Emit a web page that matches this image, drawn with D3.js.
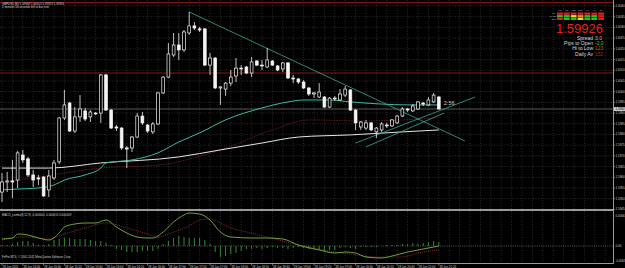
<!DOCTYPE html>
<html>
<head>
<meta charset="utf-8">
<script src="https://cdn.jsdelivr.net/npm/d3@7"></script>
<style>
  body { margin: 0; background: #000; }
  svg { display: block; }
  text { font-family: "Liberation Sans", Arial, sans-serif; }
</style>
</head>
<body>
<div id="chart"></div>
<script>
// GBPUSD M5 candles, 28 Jun 2011
const opens = [1.59531,1.59578,1.59583,1.59587,1.59704,1.59686,1.59611,1.59597,1.59601,1.59541,
  1.59597,1.59672,1.59877,1.59947,1.59816,1.59882,1.59910,1.59882,1.59900,1.59900,
  1.60078,1.59914,1.59835,1.59830,1.59737,1.59737,1.59788,1.59886,1.59844,1.59812,
  1.59849,1.59994,1.60068,1.60171,1.60218,1.60195,1.60274,1.60307,1.60293,1.60293,
  1.60124,1.60157,1.60017,1.60012,1.60040,1.60073,1.60110,1.60115,1.60087,1.60143,
  1.60124,1.60115,1.60143,1.60120,1.60106,1.60134,1.60064,1.60059,1.60045,1.60017,
  1.59989,1.59975,1.59975,1.59928,1.59970,1.59961,1.59984,1.60008,1.59914,1.59835,
  1.59830,1.59854,1.59812,1.59821,1.59844,1.59840,1.59854,1.59886,1.59919,1.59910,
  1.59919,1.59947,1.59938,1.59952,1.59975];
const highs = [1.59620,1.59625,1.59681,1.59723,1.59728,1.59695,1.59634,1.59611,1.59606,1.59634,
  1.59681,1.59882,1.60008,1.59952,1.59928,1.59984,1.59924,1.59914,1.59905,1.60082,
  1.60082,1.59919,1.59844,1.59835,1.59746,1.59793,1.59900,1.59905,1.59849,1.59858,
  1.59998,1.60073,1.60227,1.60274,1.60274,1.60288,1.60372,1.60325,1.60302,1.60297,
  1.60181,1.60162,1.60026,1.60045,1.60101,1.60157,1.60124,1.60120,1.60162,1.60148,
  1.60148,1.60204,1.60148,1.60124,1.60139,1.60139,1.60078,1.60064,1.60054,1.60022,
  1.59998,1.60040,1.59980,1.59975,1.59980,1.60012,1.60026,1.60012,1.59919,1.59863,
  1.59868,1.59858,1.59835,1.59858,1.59854,1.59872,1.59891,1.59928,1.59924,1.59942,
  1.59956,1.59952,1.59975,1.59994,1.59980];
const lows = [1.59485,1.59531,1.59503,1.59550,1.59667,1.59601,1.59555,1.59564,1.59508,1.59508,
  1.59587,1.59662,1.59868,1.59812,1.59807,1.59858,1.59863,1.59858,1.59891,1.59854,
  1.59910,1.59826,1.59816,1.59728,1.59643,1.59718,1.59784,1.59844,1.59807,1.59802,
  1.59844,1.59989,1.60064,1.60162,1.60148,1.60185,1.60265,1.60288,1.60279,1.60120,
  1.60078,1.60012,1.59938,1.59980,1.60026,1.60045,1.60078,1.60082,1.60068,1.60120,
  1.60101,1.60110,1.60120,1.60096,1.60092,1.60059,1.60040,1.60036,1.60012,1.59980,
  1.59970,1.59970,1.59924,1.59924,1.59956,1.59956,1.59975,1.59910,1.59821,1.59821,
  1.59821,1.59816,1.59784,1.59812,1.59830,1.59835,1.59849,1.59882,1.59905,1.59905,
  1.59914,1.59933,1.59933,1.59947,1.59917];
const closes = [1.59578,1.59583,1.59578,1.59714,1.59681,1.59611,1.59587,1.59592,1.59513,1.59606,
  1.59667,1.59877,1.59938,1.59816,1.59882,1.59919,1.59872,1.59905,1.59896,1.60078,
  1.59914,1.59830,1.59830,1.59737,1.59732,1.59788,1.59886,1.59854,1.59816,1.59849,
  1.59994,1.60068,1.60176,1.60218,1.60195,1.60279,1.60307,1.60297,1.60288,1.60124,
  1.60157,1.60017,1.60022,1.60040,1.60068,1.60110,1.60106,1.60087,1.60139,1.60124,
  1.60120,1.60148,1.60124,1.60101,1.60134,1.60064,1.60059,1.60045,1.60017,1.59989,
  1.59994,1.59998,1.59928,1.59970,1.59966,1.59989,1.60012,1.59914,1.59854,1.59858,
  1.59854,1.59821,1.59830,1.59849,1.59840,1.59868,1.59886,1.59919,1.59914,1.59933,
  1.59952,1.59942,1.59961,1.59984,1.59919];

// moving averages, sampled as [bar, price]
const maTeal = [[0,1.59541],[3,1.59545],[7,1.59550],[10,1.59564],[12,1.59587],[16,1.59611],[19,1.59643],
  [20,1.59667],[25,1.59681],[30,1.59714],[34,1.59765],[38,1.59807],[43,1.59868],[50,1.59924],
  [55,1.59952],[58,1.59961],[63,1.59961],[67,1.59952],[73,1.59942],[78,1.59938],[84,1.59938]];
const maWhite = [[0,1.59643],[9,1.59643],[19,1.59667],[34,1.59695],[42,1.59728],[50,1.59760],
  [57,1.59788],[67,1.59798],[77,1.59812],[84,1.59821]];
const maRed = [[0,1.59578],[6,1.59597],[19,1.59643],[30,1.59657],[42,1.59728],[52,1.59821],
  [59,1.59868],[69,1.59863],[84,1.59877]];

// trendlines [bar, price] -> [bar, price]
const trendLines = [
  [[36,1.60372],[89,1.59770]],
  [[68,1.59760],[91,1.59975]],
  [[70,1.59742],[85,1.59900]]
];
const redLevels = [1.60416, 1.60087];
const bidPrice = 1.59919;

const priceTicks = [1.6040,1.6035,1.6030,1.6025,1.6020,1.6015,1.6010,1.6005,1.6000,1.5995,
  1.5990,1.5985,1.5980,1.5975,1.5970,1.5965,1.5960,1.5955,1.5950,1.5945];
const timeLabels = ["28 Jun 2011","28 Jun 14:40","28 Jun 15:00","28 Jun 15:20","28 Jun 15:40",
  "28 Jun 16:00","28 Jun 16:20","28 Jun 16:40","28 Jun 17:00","28 Jun 17:20","28 Jun 17:40",
  "28 Jun 18:00","28 Jun 18:20","28 Jun 18:40","28 Jun 19:00","28 Jun 19:20","28 Jun 19:40",
  "28 Jun 20:00","28 Jun 20:20","28 Jun 20:40","28 Jun 21:00","28 Jun 21:20"];

// MACD panel
const macdMain = [[0,0.00014],[2,0.00016],[3,0.00024],[5,0.00022],[7,0.00016],[9,0.00012],[11,0.00026],
  [12,0.00038],[14,0.00044],[16,0.00046],[18,0.00046],[20,0.00052],[22,0.00038],[24,0.00026],
  [26,0.00018],[28,0.00016],[29,0.00016],[31,0.00028],[33,0.00048],[35,0.00062],[36,0.00066],
  [38,0.00064],[40,0.00052],[42,0.00028],[44,0.00018],[48,0.00016],[51,0.00016],[54,0.00014],
  [57,0.00002],[61,-0.00008],[64,-0.00014],[66,-0.00012],[68,-0.00014],[70,-0.00022],[73,-0.00024],
  [75,-0.0002],[78,-0.00012],[80,-0.00008],[84,0]];
const macdSignal = [[0,0.00012],[4,0.00018],[7,0.00016],[9,0.00014],[12,0.00024],[16,0.00036],
  [20,0.00046],[24,0.00036],[28,0.00024],[30,0.00018],[33,0.00028],[36,0.0004],[38,0.00052],
  [40,0.00054],[42,0.00046],[44,0.00036],[47,0.00028],[51,0.00018],[57,0.00002],[61,-0.00006],
  [64,-0.00012],[67,-0.00016],[72,-0.00022],[77,-0.00022],[80,-0.00014],[84,-0.00008]];
const macdHist = [0.00002,0.00002,0.00004,0.00008,0.0001,0.0001,0.00006,0.00002,0.00002,0.00004,
  0.00012,0.00014,0.00016,0.00016,0.00014,0.00014,0.00014,0.00012,0.0001,0.0001,
  0.00006,0.00002,-0.00006,-0.00008,-0.00012,-0.00012,-0.00012,-0.0001,-0.0001,-0.0001,
  -0.00006,0.00004,0.0001,0.00016,0.0002,0.00018,0.00016,0.00016,0.00016,0.00012,
  0.00004,-0.00012,-0.00022,-0.0002,-0.00016,-0.00014,-0.0001,-0.00006,-0.00006,-0.00004,
  -0.00006,-0.00004,-0.00002,-0.00004,-0.00004,-0.00006,-0.00004,-0.00002,-0.00004,-0.00006,
  -0.00006,-0.00008,-0.0001,-0.00008,-0.00008,-0.00004,-0.00002,-0.00004,-0.00006,-0.00002,
  -0.00002,-0.00002,-0.00002,0,0.00002,0.00002,0.00002,0.00004,0.00004,0.00006,
  0.00004,0.00006,0.00008,0.0001,0.00008];
const macdTicks = [0.0006, 0, -0.0003];

// info panel
const headerLines = ["GBPUSD,M5  1.59949 1.60013 1.59919 1.59926", "2 minutes 56 seconds left to bar end"];
const tfNames = ["M1","M5","M15","M30","H1","H4","D1"];
const tfRows = ["MA","MACD","STO"];
const tfColors = [
  ["#d42222","#d42222","#d42222","#d42222","#d42222","#d42222","#d42222"],
  ["#26c026","#26c026","#e0d820","#e08a20","#26c026","#26c026","#d42222"],
  ["#d42222","#26c026","#26c026","#e0d820","#26c026","#26c026","#d42222"]
];
const bigPrice = "1.59926";
const infoLabels = ["Spread","Pips to Open","Hi to Low","Daily Av"];
const infoValues = ["3.0","-2.0","123","152"];
const infoColors = ["#c8c070","#5ec23a","#b0501c","#8a3a1a"];
const countdown = "2:56";

const W = 625, H = 268;
const svg = d3.select("#chart").append("svg").attr("width", W).attr("height", H);
svg.append("rect").attr("width", W).attr("height", H).attr("fill", "#000");

const x = d3.scaleLinear().domain([0, 117.5]).range([2, 613]);
const y = d3.scaleLinear().domain([1.5945, 1.6040]).range([209.4, 6]);
const ym = d3.scaleLinear().domain([-0.00034, 0.0007]).range([263, 211]);

const defs = svg.append("defs");
defs.append("clipPath").attr("id", "clipMain").append("rect").attr("x", 0).attr("y", 0).attr("width", 613).attr("height", 209);
defs.append("clipPath").attr("id", "clipMacd").append("rect").attr("x", 0).attr("y", 211).attr("width", 613).attr("height", 52);

const gridColor = "#4a4a4a";
const bars = d3.range(0, 118, 2);

// grid, main panel
const main = svg.append("g").attr("clip-path", "url(#clipMain)");
main.selectAll("line.vg").data(bars).join("line")
  .attr("x1", d => x(d)).attr("x2", d => x(d)).attr("y1", 0).attr("y2", 209)
  .attr("stroke", gridColor).attr("stroke-width", 0.6).attr("stroke-dasharray", "1,1.6");
main.selectAll("line.hg").data(priceTicks).join("line")
  .attr("x1", 0).attr("x2", 613).attr("y1", d => y(d)).attr("y2", d => y(d))
  .attr("stroke", gridColor).attr("stroke-width", 0.6).attr("stroke-dasharray", "1,1.6");

// horizontal levels
main.selectAll("line.red").data(redLevels).join("line")
  .attr("x1", 0).attr("x2", 613).attr("y1", d => y(d)).attr("y2", d => y(d))
  .attr("stroke", "#8a1414").attr("stroke-width", 1);
main.append("line").attr("x1", 0).attr("x2", 613).attr("y1", y(bidPrice)).attr("y2", y(bidPrice))
  .attr("stroke", "#707070").attr("stroke-width", 0.8);

// moving averages
const maLine = d3.line().x(d => x(d[0])).y(d => y(d[1])).curve(d3.curveMonotoneX);
main.append("path").attr("d", maLine(maRed)).attr("fill", "none")
  .attr("stroke", "#6e1c1c").attr("stroke-width", 0.9).attr("stroke-dasharray", "1.5,1");
main.append("path").attr("d", maLine(maWhite)).attr("fill", "none")
  .attr("stroke", "#e6e6e6").attr("stroke-width", 1);
main.append("path").attr("d", maLine(maTeal)).attr("fill", "none")
  .attr("stroke", "#3fb8a6").attr("stroke-width", 1);

// trendlines
main.selectAll("line.tl").data(trendLines).join("line")
  .attr("x1", d => x(d[0][0])).attr("y1", d => y(d[0][1]))
  .attr("x2", d => x(d[1][0])).attr("y2", d => y(d[1][1]))
  .attr("stroke", "#3aa898").attr("stroke-width", 0.8);

// candles
const candles = opens.map((o, i) => ({ i, o, h: highs[i], l: lows[i], c: closes[i] }));
const cg = main.append("g");
cg.selectAll("line.wick").data(candles).join("line")
  .attr("x1", d => x(d.i)).attr("x2", d => x(d.i))
  .attr("y1", d => y(d.h)).attr("y2", d => y(d.l))
  .attr("stroke", "#f0f0f0").attr("stroke-width", 0.8);
cg.selectAll("rect.body").data(candles).join("rect")
  .attr("x", d => x(d.i) - 1.4)
  .attr("width", 2.8)
  .attr("y", d => y(Math.max(d.o, d.c)))
  .attr("height", d => Math.max(0.8, Math.abs(y(d.o) - y(d.c))))
  .attr("fill", d => d.c > d.o ? "#000" : "#f4f4f4")
  .attr("stroke", "#f4f4f4").attr("stroke-width", 0.7);

main.append("text").attr("x", x(84) + 5).attr("y", y(closes[84]) - 4)
  .attr("fill", "#c8c8c8").attr("font-size", 5.5).text(countdown);

// header text
svg.selectAll("text.hdr").data(headerLines).join("text")
  .attr("x", 2).attr("y", (d, i) => 4.6 + i * 3.6)
  .attr("fill", "#d8d8d8").attr("font-size", 2.9).text(d => d);

// timeframe table
const colX = d3.scaleBand().domain(tfNames).range([557, 604]).paddingInner(0.15);
const rowY = d3.scaleBand().domain(tfRows).range([12.5, 20]).paddingInner(0.12);
svg.selectAll("text.tfh").data(tfNames).join("text")
  .attr("x", d => colX(d) + colX.bandwidth() / 2).attr("y", 11.3)
  .attr("text-anchor", "middle").attr("fill", "#bbbbbb").attr("font-size", 2.2).text(d => d);
svg.selectAll("text.tfr").data(tfRows).join("text")
  .attr("x", 556).attr("y", d => rowY(d) + rowY.bandwidth() - 0.4)
  .attr("text-anchor", "end").attr("fill", "#bbbbbb").attr("font-size", 2.2).text(d => d);
tfRows.forEach((r, ri) => {
  svg.selectAll("rect.tf" + ri).data(tfNames).join("rect")
    .attr("x", d => colX(d)).attr("y", rowY(r))
    .attr("width", colX.bandwidth()).attr("height", rowY.bandwidth())
    .attr("fill", (d, ci) => tfColors[ri][ci]);
});

svg.append("text").attr("x", 603).attr("y", 32.5).attr("text-anchor", "end")
  .attr("fill", "#e2231c").attr("font-size", 13).text(bigPrice);
svg.selectAll("text.il").data(infoLabels).join("text")
  .attr("x", 593).attr("y", (d, i) => 39.5 + i * 5.4).attr("text-anchor", "end")
  .attr("fill", "#d8d8d8").attr("font-size", 5).text(d => d);
svg.selectAll("text.iv").data(infoValues).join("text")
  .attr("x", 595).attr("y", (d, i) => 39.5 + i * 5.4)
  .attr("fill", (d, i) => infoColors[i]).attr("font-size", 5).text(d => d);

// separator between panels
svg.append("rect").attr("x", 0).attr("y", 209).attr("width", 613).attr("height", 2).attr("fill", "#9a9a9a");

// MACD panel
const mp = svg.append("g").attr("clip-path", "url(#clipMacd)");
mp.selectAll("line.vg").data(bars).join("line")
  .attr("x1", d => x(d)).attr("x2", d => x(d)).attr("y1", 211).attr("y2", 263)
  .attr("stroke", gridColor).attr("stroke-width", 0.6).attr("stroke-dasharray", "1,1.6");
mp.append("line").attr("x1", 0).attr("x2", 613).attr("y1", ym(0)).attr("y2", ym(0))
  .attr("stroke", "#808080").attr("stroke-width", 0.7).attr("stroke-dasharray", "1,1.2");
mp.selectAll("line.hist").data(macdHist).join("line")
  .attr("x1", (d, i) => x(i)).attr("x2", (d, i) => x(i))
  .attr("y1", ym(0)).attr("y2", d => ym(d))
  .attr("stroke", "#2f8a2f").attr("stroke-width", 1);
const mLine = d3.line().x(d => x(d[0])).y(d => ym(d[1])).curve(d3.curveMonotoneX);
mp.append("path").attr("d", mLine(macdSignal)).attr("fill", "none")
  .attr("stroke", "#9a3a3a").attr("stroke-width", 0.8).attr("stroke-dasharray", "1,1");
mp.append("path").attr("d", mLine(macdMain)).attr("fill", "none")
  .attr("stroke", "#7cb342").attr("stroke-width", 0.9);
svg.append("text").attr("x", 2).attr("y", 215.5).attr("fill", "#d0d0d0").attr("font-size", 2.9)
  .text("MACD_combo(8,12,9) -0.000004 -0.000013 0.000009");
svg.append("text").attr("x", 2).attr("y", 258).attr("fill", "#d0d0d0").attr("font-size", 2.9)
  .text("FxPro MT4, \u00a9 2001-2011 MetaQuotes Software Corp.");

// axes frame
svg.append("line").attr("x1", 613.5).attr("x2", 613.5).attr("y1", 0).attr("y2", 263.5)
  .attr("stroke", "#c0c0c0").attr("stroke-width", 0.8);
svg.append("line").attr("x1", 0).attr("x2", 613.5).attr("y1", 263.5).attr("y2", 263.5)
  .attr("stroke", "#c0c0c0").attr("stroke-width", 0.8);

// price axis
const pAxis = svg.append("g");
pAxis.selectAll("line").data(priceTicks).join("line")
  .attr("x1", 613.5).attr("x2", 615).attr("y1", d => y(d)).attr("y2", d => y(d))
  .attr("stroke", "#c0c0c0").attr("stroke-width", 0.6);
pAxis.selectAll("text").data(priceTicks).join("text")
  .attr("x", 615.5).attr("y", d => y(d) + 1).attr("fill", "#d0d0d0").attr("font-size", 3)
  .text(d => d.toFixed(4));
// current bid label
svg.append("rect").attr("x", 614).attr("y", y(bidPrice) - 2).attr("width", 11).attr("height", 4).attr("fill", "#c8c8c8");
svg.append("text").attr("x", 615.5).attr("y", y(bidPrice) + 1.1).attr("fill", "#000").attr("font-size", 3)
  .text(bidPrice.toFixed(4));

// MACD axis
svg.selectAll("text.mt").data(macdTicks).join("text")
  .attr("x", 615.5).attr("y", d => ym(d) + 1).attr("fill", "#d0d0d0").attr("font-size", 3)
  .text(d => d === 0 ? "0.00" : d.toFixed(4));

// time axis
svg.selectAll("line.tt").data(timeLabels).join("line")
  .attr("x1", (d, k) => x(k * 4)).attr("x2", (d, k) => x(k * 4)).attr("y1", 263.5).attr("y2", 265.5)
  .attr("stroke", "#c0c0c0").attr("stroke-width", 0.6);
svg.selectAll("text.tl").data(timeLabels).join("text")
  .attr("x", (d, k) => x(k * 4) + 0.6).attr("y", 267.6)
  .attr("fill", "#d0d0d0").attr("font-size", 2.9).text(d => d);
</script>
</body>
</html>
